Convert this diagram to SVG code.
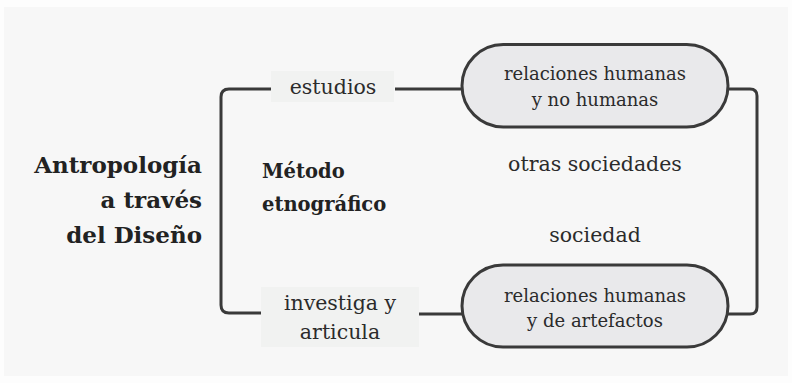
<svg xmlns="http://www.w3.org/2000/svg" width="792" height="383" viewBox="0 0 792 383">
<style>
.bg{fill:#f7f7f7}
.line{fill:none;stroke:#3a3a3a;stroke-width:3;stroke-linejoin:round}
.pill{fill:#e9e9eb;stroke:#3a3a3a;stroke-width:3}
.lbl{fill:#f1f2f1}
.t{font-family:"DejaVu Serif","Liberation Serif",serif;fill:#2b2b2b;text-anchor:middle}
.free{font-size:20.5px}
.pt{font-size:18px}
.b{font-family:"DejaVu Serif","Liberation Serif",serif;font-weight:bold;fill:#222}
</style>
<rect width="792" height="383" fill="#fdfdfd"/>
<rect class="bg" x="4" y="7" width="784" height="369"/>
<g id="connectors">
<path class="line" d="M271 89 H229 Q221 89 221 97 V305 Q221 313 229 313 H262"/>
<path class="line" d="M395 89 H462"/>
<path class="line" d="M419 314 H462"/>
<path class="line" d="M728 89 H750 Q757 89 757 96 V307 Q757 314 750 314 H728"/>
</g>
<g id="title">
<text class="b" x="202" y="173" font-size="23" text-anchor="end">Antropología</text>
<text class="b" x="202" y="208" font-size="23" text-anchor="end">a través</text>
<text class="b" x="202" y="243" font-size="23" text-anchor="end">del Diseño</text>
</g>
<g id="metodo">
<text class="b" x="262" y="178" font-size="19.5">Método</text>
<text class="b" x="262" y="211" font-size="19.5">etnográfico</text>
</g>
<g id="estudios">
<rect class="lbl" x="271" y="71" width="123" height="31"/>
<text class="t free" x="333" y="94">estudios</text>
</g>
<g id="investiga">
<rect class="lbl" x="261" y="287" width="158" height="60"/>
<text class="t free" x="340" y="310">investiga y</text>
<text class="t free" x="340" y="339">articula</text>
</g>
<g id="pill1">
<rect class="pill" x="462" y="44.5" width="266" height="82.5" rx="41.25"/>
<text class="t pt" x="595" y="80">relaciones humanas</text>
<text class="t pt" x="595" y="106">y no humanas</text>
</g>
<g id="otras">
<text class="t free" x="595" y="171">otras sociedades</text>
</g>
<g id="sociedad">
<text class="t free" x="595" y="242">sociedad</text>
</g>
<g id="pill2">
<rect class="pill" x="462" y="265" width="266" height="82" rx="41"/>
<text class="t pt" x="595" y="302">relaciones humanas</text>
<text class="t pt" x="595" y="327">y de artefactos</text>
</g>
</svg>
